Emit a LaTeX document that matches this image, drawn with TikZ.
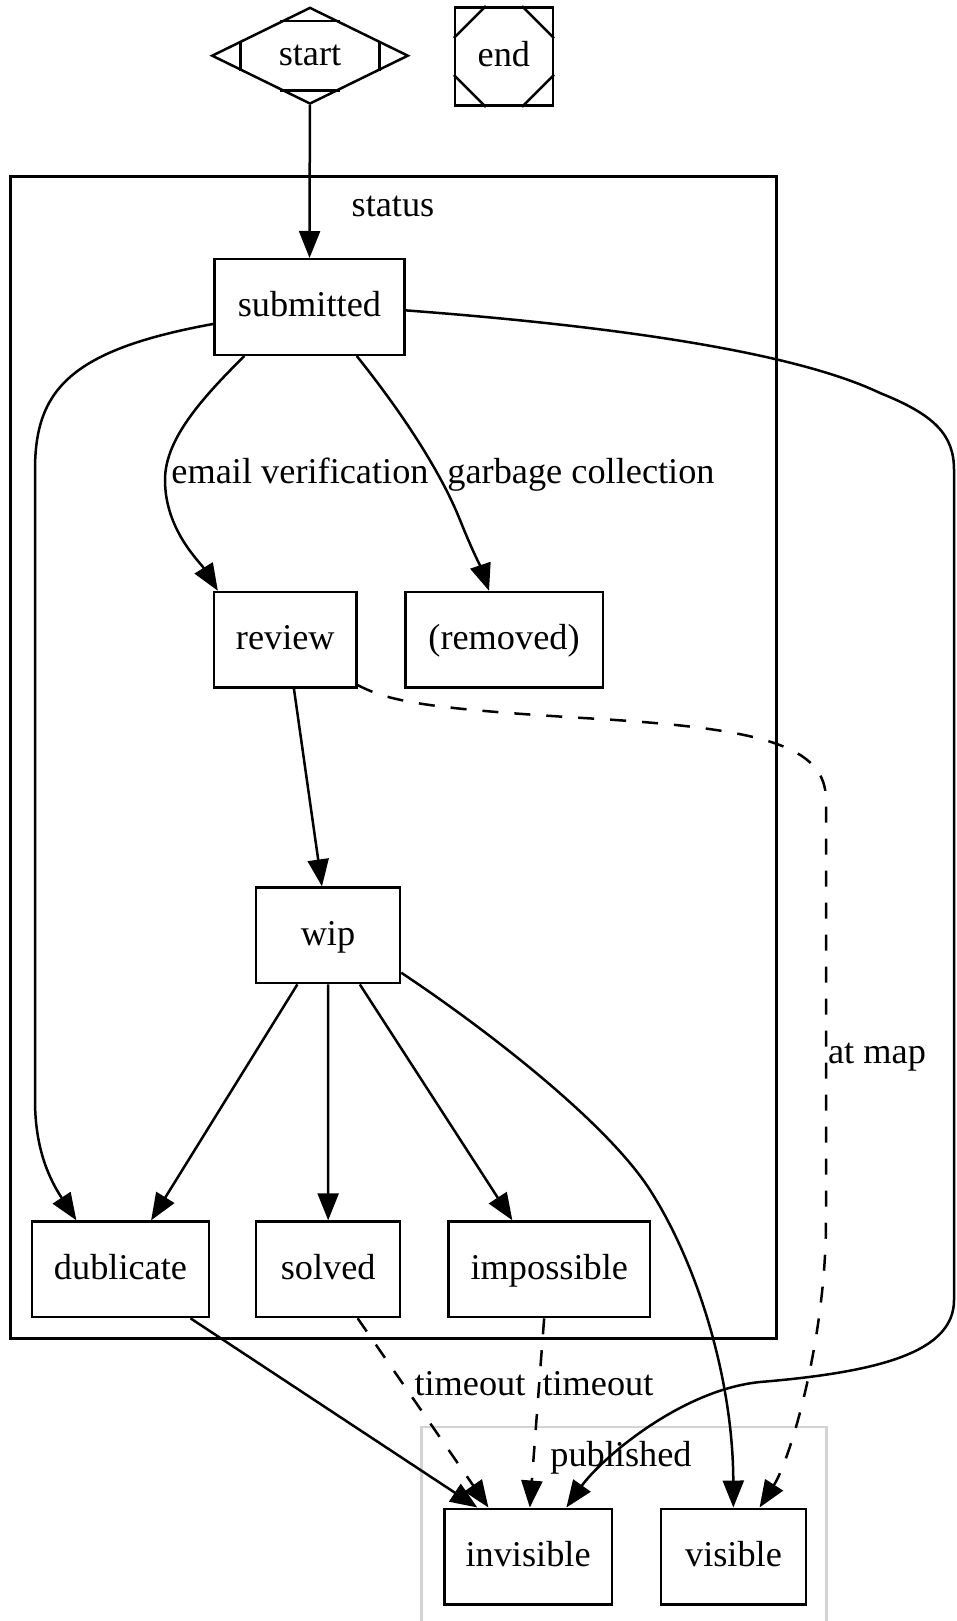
\documentclass[tikz,border=0pt]{standalone}
\usepackage{fontspec}
\setmainfont{Liberation Serif}
\usetikzlibrary{calc,arrows.meta,shapes.geometric}
\tikzset{>={Triangle[length=27pt,width=21pt]}}
\definecolor{clustergray}{HTML}{D3D3D3}
\tikzset{
  state/.style={draw,rectangle,line width=2.5pt,minimum height=95.5pt,inner sep=0pt,text height=24pt,text depth=4.6pt},
  lbl/.style={inner sep=0pt,text height=24pt,text depth=4.6pt},
  flow/.style={->,line width=2.5pt},
  lazy/.style={flow,dash pattern=on 16pt off 16pt},
}

\begin{document}
\begin{tikzpicture}[x=1pt,y=1pt,font=\fontsize{36.3}{43}\selectfont]
\useasboundingbox (0,0) rectangle (956,-1621);
% clusters
\draw[line width=2.5pt] (10.7,-176.3) rectangle (776.7,-1338.6);
\node[lbl] (status) at (393,-207) {status};
\draw[line width=2.5pt,clustergray] (421.5,-1427) rectangle (826.7,-1640);
\node[lbl] (published) at (621,-1457) {published};
% start and final
\node[draw,diamond,line width=2.5pt,minimum width=196.6pt,minimum height=96.7pt,inner sep=0pt,text height=24pt,text depth=4.6pt] (start) at (310,-55.7) {start};
\draw[line width=2.5pt] ($(start.north)!0.3!(start.west)$) -- ($(start.north)!0.3!(start.east)$);
\draw[line width=2.5pt] ($(start.south)!0.3!(start.west)$) -- ($(start.south)!0.3!(start.east)$);
\draw[line width=2.5pt] ($(start.west)!0.3!(start.north)$) -- ($(start.west)!0.3!(start.south)$);
\draw[line width=2.5pt] ($(start.east)!0.3!(start.north)$) -- ($(start.east)!0.3!(start.south)$);
\node[state,minimum width=97.7pt,minimum height=98.4pt] (final) at (503.9,-56.5) {end};
\draw[line width=2.5pt] ($(final.north west)+(32,0)$) -- ($(final.north west)+(0,-32)$);
\draw[line width=2.5pt] ($(final.north east)+(-32,0)$) -- ($(final.north east)+(0,-32)$);
\draw[line width=2.5pt] ($(final.south west)+(32,0)$) -- ($(final.south west)+(0,32)$);
\draw[line width=2.5pt] ($(final.south east)+(-32,0)$) -- ($(final.south east)+(0,32)$);
% states
\node[state,minimum width=189.8pt] (submitted) at (309.4,-307) {submitted};
\node[state,minimum width=142.6pt] (review) at (285.3,-639.8) {review};
\node[state,minimum width=197.5pt] (removed) at (504,-639.8) {(removed)};
\node[state,minimum width=144pt] (wip) at (328,-935.4) {wip};
\node[state,minimum width=177pt] (dublicate) at (120.5,-1269.3) {dublicate};
\node[state,minimum width=144pt] (solved) at (328.2,-1269.3) {solved};
\node[state,minimum width=201.5pt] (impossible) at (549.3,-1269.3) {impossible};
\node[state,minimum width=167.4pt] (invisible) at (528.1,-1556.5) {invisible};
\node[state,minimum width=145pt] (visible) at (733.5,-1556.5) {visible};
% edge labels
\node[lbl] (email) at (300,-473.3) {email verification};
\node[lbl] (garbage) at (581,-473.3) {garbage collection};
\node[lbl] (atmap) at (877,-1053.5) {at map};
\node[lbl] (timeout1) at (470,-1385.3) {timeout};
\node[lbl] (timeout2) at (598,-1385.3) {timeout};
% edges
\draw[flow] (start) -- (submitted);
\draw[flow] (submitted.190) .. controls (70,-350) and (35,-390) .. (35,-470) -- (35,-1100) .. controls (35,-1150) and (50,-1180) .. (dublicate.132);
\draw[flow] (submitted.217) .. controls (200,-400) and (165,-440) .. (165,-480) .. controls (165,-530) and (200,-562) .. (review.144);
\draw[flow] (submitted.-46) .. controls (400,-410) and (440,-470) .. (460,-520) .. controls (472,-550) and (482,-570) .. (removed.107);
\draw[flow] (submitted.-2) .. controls (600,-325) and (790,-350) .. (880,-393) .. controls (935,-415) and (954,-435) .. (954,-470) -- (954,-1300) .. controls (954,-1352) and (880,-1372) .. (760,-1382) .. controls (680,-1390) and (600,-1460) .. (invisible.52);
\draw[flow] (review.-80) -- (wip.97);
\draw[lazy] (review.-32) .. controls (390,-702) and (430,-709) .. (600,-719) .. controls (760,-729) and (826,-745) .. (826,-800) -- (826,-1220) .. controls (826,-1340) and (790,-1460) .. (visible.62);
\draw[flow] (wip.-122) -- (dublicate.58);
\draw[flow] (wip) -- (solved);
\draw[flow] (wip.-57) -- (impossible.127);
\draw[flow] (wip.-27) .. controls (480,-1025) and (605,-1120) .. (650,-1190) .. controls (698,-1265) and (733,-1380) .. (visible);
\draw[flow] (dublicate.-35) -- (invisible.136);
\draw[lazy] (solved.-59) -- (invisible.129);
\draw[lazy] (impossible.-96) -- (invisible.88);
\end{tikzpicture}
\end{document}
